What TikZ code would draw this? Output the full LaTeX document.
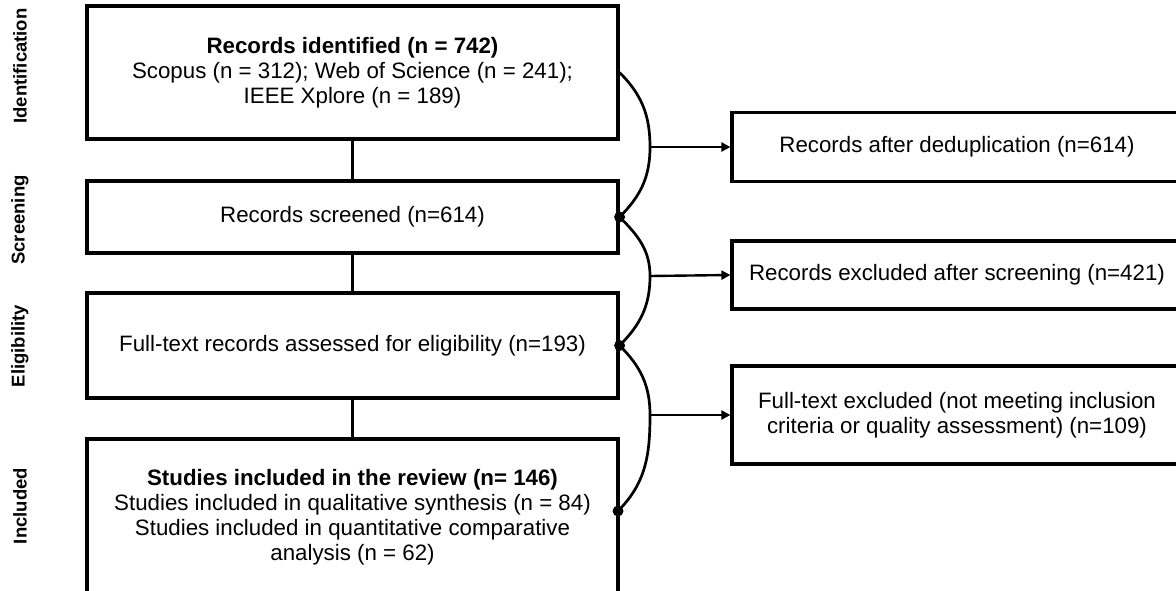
\documentclass[tikz,border=0pt]{standalone}
\usepackage{fontspec}
\setmainfont{Liberation Sans}
\usetikzlibrary{arrows.meta}
\begin{document}
\begin{tikzpicture}[x=1pt,y=-1pt,
  lbox/.style={draw,line width=3.2pt,minimum width=531pt,align=center,inner sep=0pt,font=\fontsize{22.3}{25}\selectfont},
  rbox/.style={draw,line width=3.2pt,minimum width=450pt,align=center,inner sep=0pt,font=\fontsize{22.3}{25}\selectfont},
  stage/.style={rotate=90,font=\bfseries\fontsize{18.5}{20}\selectfont},
  link/.style={line width=3.6pt},
  curve/.style={line width=2.7pt},
  arr/.style={line width=2.4pt,-{Triangle[length=9pt,width=9pt]}},
  dot/.style={circle,fill,inner sep=0pt,minimum size=11pt}]
\useasboundingbox (0,0) rectangle (1176,590);
\clip (0,0) rectangle (1176,590);
% left boxes
\node[lbox,minimum height=133pt] (id) at (352.5,72.5) {\textbf{Records identified (n = 742)}\\Scopus (n = 312); Web of Science (n = 241);\\IEEE Xplore (n = 189)};
\node[lbox,minimum height=72pt] (sc) at (352.5,217) {Records screened (n=614)};
\node[lbox,minimum height=105pt] (el) at (352.5,345.5) {Full-text records assessed for eligibility (n=193)};
\node[lbox,minimum height=156pt] (in) at (352.5,517) {\textbf{Studies included in the review (n= 146)}\\Studies included in qualitative synthesis (n = 84)\\Studies included in quantitative comparative\\analysis (n = 62)};
% stage labels
\node[stage] (l1) at (20,66) {Identification};
\node[stage] (l2) at (20,220) {Screening};
\node[stage] (l3) at (20,346) {Eligibility};
\node[stage] (l4) at (20,506) {Included};
% vertical links
\draw[link] (id) -- (sc);
\draw[link] (sc) -- (el);
\draw[link] (el) -- (in);
% right boxes
\node[rbox,minimum height=69pt] (r1) at (957,147) {Records after deduplication (n=614)};
\node[rbox,minimum height=68pt] (r2) at (957,275) {Records excluded after screening (n=421)};
\node[rbox,minimum height=98pt] (r3) at (957,415) {Full-text excluded (not meeting inclusion\\criteria or quality assessment) (n=109)};
% junction coordinates
\coordinate (m1) at (650,147);
\coordinate (m2) at (650,276);
\coordinate (m3) at (650,415);
\coordinate (e4) at (618,511);
% curves
\draw[curve] (id.east) to[out=-45,in=90] (m1) to[out=-90,in=45] (sc.east);
\draw[curve] (sc.east) to[out=-45,in=90] (m2) to[out=-90,in=45] (el.east);
\draw[curve] (el.east) to[out=-45,in=90] (m3) to[out=-90,in=45] (e4);
\node[dot] (d1) at (sc.east) {};
\node[dot] (d2) at (el.east) {};
\node[dot] (d3) at (e4) {};
% arrows
\draw[arr] (m1) -- (r1.west);
\draw[arr] (m2) -- (r2.west);
\draw[arr] (m3) -- (r3.west);
\end{tikzpicture}
\end{document}
